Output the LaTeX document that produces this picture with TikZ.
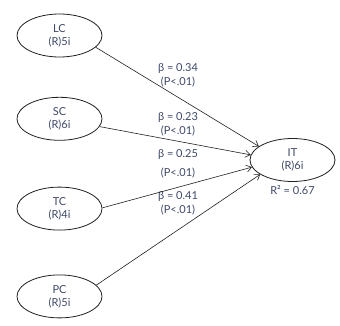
\documentclass[tikz,border=0pt]{standalone}
\usepackage{fontspec}
\setmainfont{Lato}
\usetikzlibrary{arrows.meta,positioning,shapes.geometric}
\definecolor{Ink}{HTML}{3E4868}
\definecolor{Edge}{HTML}{202020}

\begin{document}
\begin{tikzpicture}[x=1pt,y=-1pt,
    construct/.style={ellipse,draw=Edge,line width=0.8pt,minimum width=85pt,
      minimum height=43pt,inner sep=0pt,align=center,text=Ink,
      font=\fontsize{11}{13}\selectfont},
    coef/.style={align=center,text=Ink,font=\fontsize{11}{14}\selectfont},
    path/.style={-{Straight Barb[length=5pt,width=7pt]},line width=0.6pt,draw=Edge}
  ]
    \useasboundingbox (0,0) rectangle (340,326);
    \node[construct] (lc) at (59.5,35.5) {LC\\(R)5i};
    \node[construct,below=39.5pt of lc] (sc) {SC\\(R)6i};
    \node[construct,below=46pt of sc] (tc) {TC\\(R)4i};
    \node[construct,below=44pt of tc] (pc) {PC\\(R)5i};
    \node[construct] (it) at (292.5,160) {IT\\(R)6i};
    \node[coef,below=0pt of it] (rsq) {R² = 0.67};
    % path coefficients
    \node[coef] (blc) at (178,75) {β = 0.34\\(P<.01)};
    \node[coef] (bsc) at (178,124) {β = 0.23\\(P<.01)};
    \node[coef] (btc) at (178,163.5) {β = 0.25\\[5pt](P<.01)};
    \node[coef] (bpc) at (178,203.5) {β = 0.41\\(P<.01)};
    \draw[path] (lc.-18) -- (it.158);
    \draw[path] (sc.-11) -- (it.173);
    \draw[path] (tc.1) -- (it.190);
    \draw[path] (pc.17) -- (it.204);
  \end{tikzpicture}
\end{document}
